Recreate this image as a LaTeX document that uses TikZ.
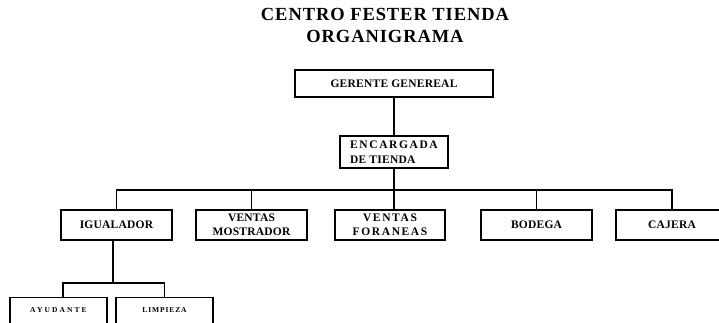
\documentclass[tikz,border=0pt]{standalone}
\usepackage{fontspec}
\setmainfont{Liberation Serif}
\newfontfamily\titlefont{Liberation Serif}[LetterSpace=5]
\newfontfamily\boxfont{Liberation Serif}[LetterSpace=2]
\newfontfamily\widefont{Liberation Serif}[LetterSpace=14]
\newfontfamily\ayfont{Liberation Serif}[LetterSpace=28]
\newfontfamily\lifont{Liberation Serif}[LetterSpace=12]
\begin{document}
\begin{tikzpicture}[x=1pt,y=-1pt,
  box/.style={draw, line width=1.25pt, inner sep=0pt, align=center,
    font=\boxfont\bfseries\fontsize{11.5}{14}\selectfont},
  smallbox/.style={draw, line width=1.25pt, inner sep=0pt, anchor=north,
    minimum width=97pt, text height=15pt, text depth=30pt},
  link/.style={line width=1.25pt}]
\useasboundingbox (0,0) rectangle (719,322);
\clip (0,0) rectangle (719,322);
\node[font=\titlefont\bfseries\fontsize{18.5}{22}\selectfont, align=center] (title) at (385,25) {CENTRO FESTER TIENDA\\ORGANIGRAMA};
\node[box, minimum width=198pt, minimum height=27pt] (G) at (394,83.5) {GERENTE GENEREAL};
\node[box, minimum width=108pt, minimum height=32pt, align=left, font=\boxfont\bfseries\fontsize{11.5}{15}\selectfont] (E) at (394,152) {{\widefont ENCARGADA}\\DE TIENDA};
\node[box, minimum width=111pt, minimum height=30pt] (IG) at (116.5,225) {IGUALADOR};
\node[box, minimum width=111pt, minimum height=30pt] (VM) at (251.5,225) {VENTAS\\MOSTRADOR};
\node[box, minimum width=110pt, minimum height=30pt, font=\widefont\bfseries\fontsize{11.5}{14}\selectfont] (VF) at (390,225) {VENTAS\\FORANEAS};
\node[box, minimum width=111pt, minimum height=30pt] (BO) at (536.5,225) {BODEGA};
\node[box, minimum width=112pt, minimum height=30pt] (CA) at (672,225) {CAJERA};
\node[smallbox, font=\ayfont\bfseries\fontsize{7.5}{9}\selectfont] (AY) at (58.5,297) {AYUDANTE};
\node[smallbox, font=\lifont\bfseries\fontsize{7.5}{9}\selectfont] (LI) at (164.5,297) {LIMPIEZA};
\coordinate (bus) at (0,190);
\coordinate (sub) at (0,283);
\coordinate (igbot) at ([xshift=-3.5pt]IG.south);
\coordinate (aytop) at ([xshift=4.5pt]AY.north);
\draw[link] (G.south) -- (E.north);
\draw[link] (E.south) -- (E.south |- VF.north);
\draw[link] (IG.north) -- (IG.north |- bus) -- (CA.north |- bus) -- (CA.north);
\draw[link] (VM.north) -- (VM.north |- bus);
\draw[link] (BO.north) -- (BO.north |- bus);
\draw[link] (igbot) -- (igbot |- sub);
\draw[link] (aytop) -- (aytop |- sub) -- (LI.north |- sub) -- (LI.north);
\end{tikzpicture}
\end{document}
